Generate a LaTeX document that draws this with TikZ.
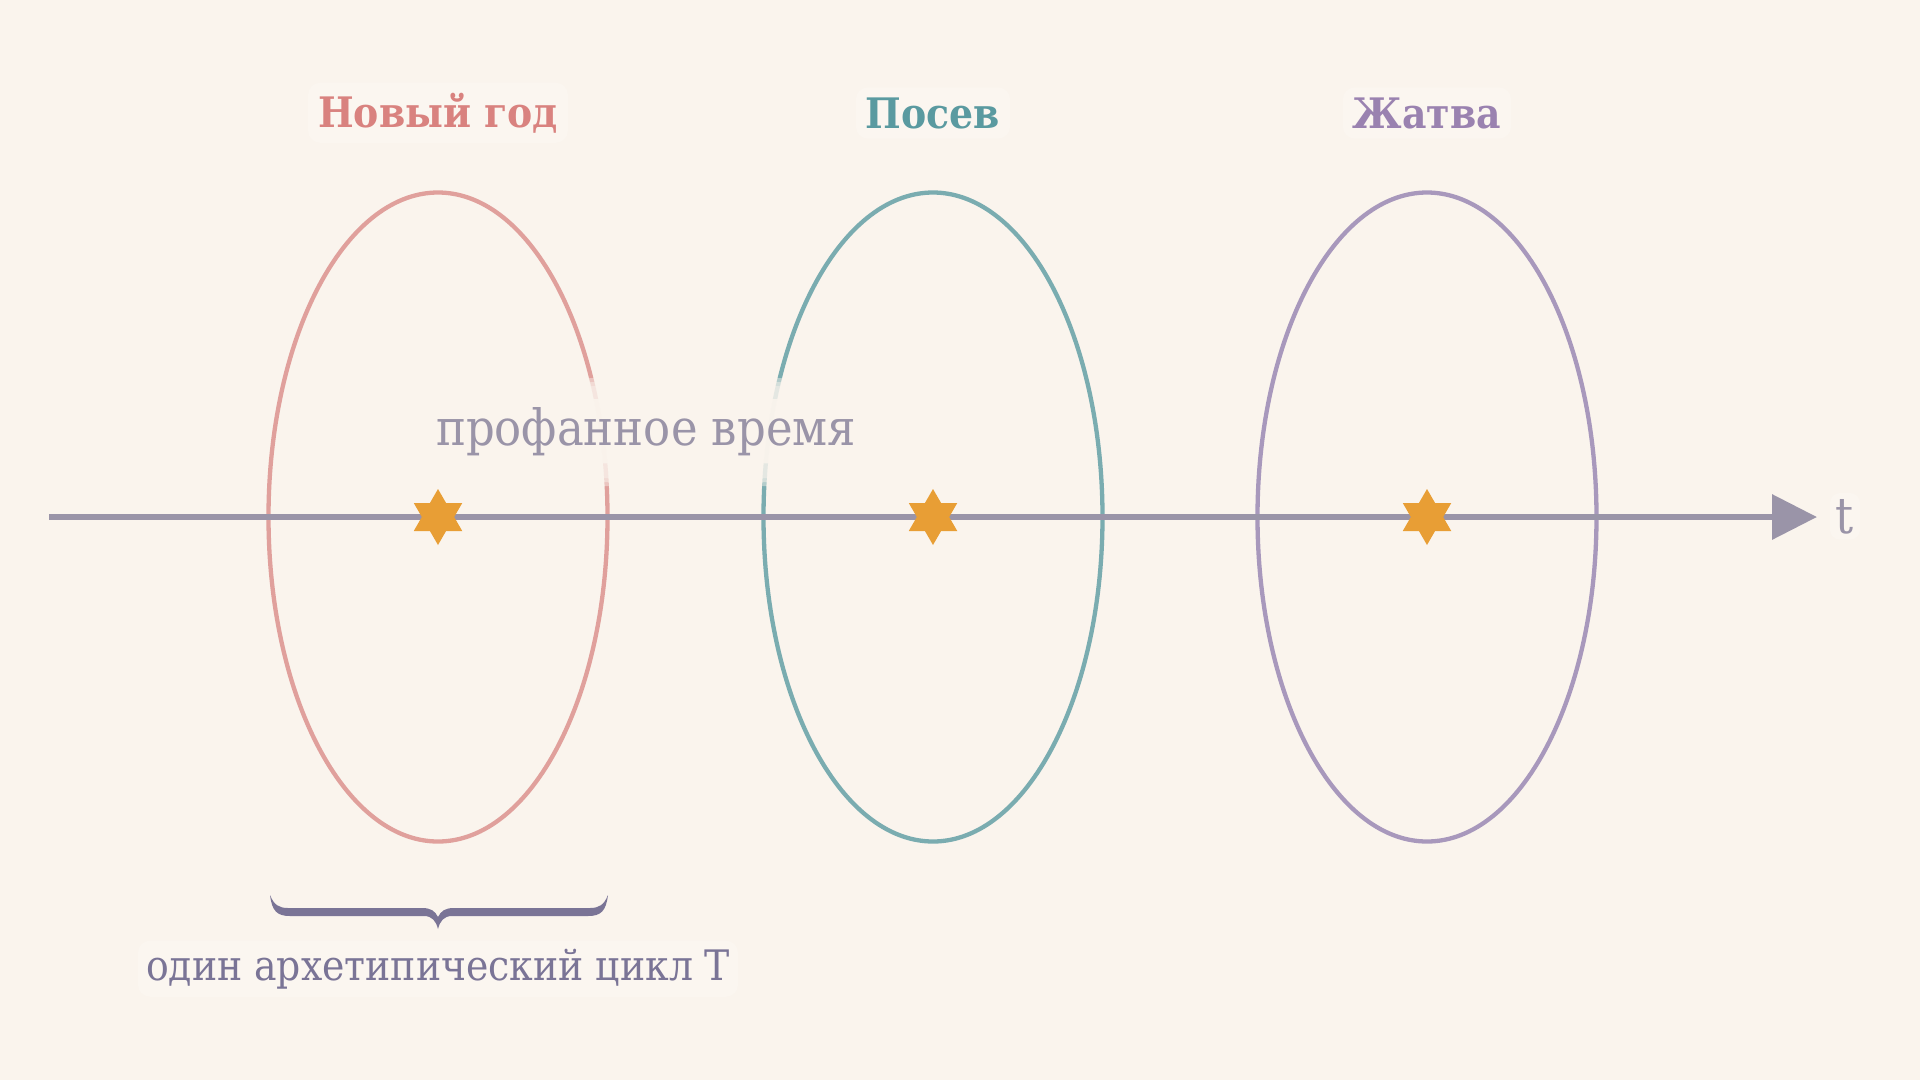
\documentclass[tikz,border=0pt]{standalone}
\usepackage{fontspec}
\setmainfont{DejaVu Serif Condensed}
\usetikzlibrary{shapes.geometric,arrows.meta}
\definecolor{bg}{HTML}{FAF4ED}
\definecolor{labelbg}{HTML}{FBF6F0}
\definecolor{axisgrey}{HTML}{9A94A8}
\definecolor{bracecol}{HTML}{7A7496}
\definecolor{starcol}{HTML}{E89E35}
\definecolor{pinkE}{HTML}{E0A09C}
\definecolor{pinkT}{HTML}{D9827F}
\definecolor{tealE}{HTML}{7AACB0}
\definecolor{tealT}{HTML}{5A9AA0}
\definecolor{purpE}{HTML}{A898BC}
\definecolor{purpT}{HTML}{9A82B0}
\begin{document}
\begin{tikzpicture}[x=1pt,y=-1pt,
  cycle/.style={ellipse,line width=4.3pt,inner sep=0pt,minimum width=339pt,minimum height=649pt},
  title/.style={font=\bfseries\fontsize{42}{50}\selectfont,anchor=base,fill=labelbg,rounded corners=12pt,inner sep=10pt},
  sacred/.style={star,star points=6,star point ratio=1.732,fill=starcol,inner sep=0pt,minimum size=56pt},
  axisline/.style={line width=6.5pt,draw=axisgrey,-{Triangle[length=45pt,width=44pt]}},
  lbl/.style={anchor=base,fill=labelbg,rounded corners=12pt,inner sep=8pt}]
\useasboundingbox (0,0) rectangle (1920,1080);
\fill[bg] (0,0) rectangle (1920,1080);
% cycles
\node[cycle,draw=pinkE] (e1) at (438,517) {};
\node[cycle,draw=tealE] (e2) at (933,517) {};
\node[cycle,draw=purpE] (e3) at (1427,517) {};
% titles
\node[title,text=pinkT] (t1) at (438,127) {Новый год};
\node[title,text=tealT] (t2) at (933,128) {Посев};
\node[title,text=purpT] (t3) at (1427,128) {Жатва};
% soft halo behind the profane-time label
\foreach \d in {14,10,6}
  \fill[bg,opacity=0.45,rounded corners=18pt] (430-\d,392-\d) rectangle (862+\d,472+\d);
\node[lbl,text=axisgrey,font=\fontsize{50}{58}\selectfont,fill=bg,fill opacity=0.9,text opacity=1] (p) at (646,445) {профанное время};
% time axis
\coordinate (a0) at (49,517);
\coordinate (a1) at (1817,517);
\draw[axisline] (a0) -- (a1);
\node[text=axisgrey,font=\fontsize{50}{56}\selectfont,anchor=base,fill=labelbg,rounded corners=10pt,inner sep=6pt] (t) at (1845,533) {t};
% sacred moments
\node[sacred] (s1) at (438,517) {};
\node[sacred] (s2) at (933,517) {};
\node[sacred] (s3) at (1427,517) {};
% brace (calligraphic, filled)
\fill[bracecol]
  (270,895) .. controls (272,911) and (277,916) .. (290,916)
  -- (424,916) .. controls (432,916) and (436,921) .. (438,929)
  .. controls (440,921) and (444,916) .. (452,916)
  -- (588,916) .. controls (601,916) and (606,911) .. (608,895)
  .. controls (604,905) and (599,908) .. (590,908)
  -- (454,908) .. controls (445,908) and (441,911) .. (438,917)
  .. controls (435,911) and (431,908) .. (422,908)
  -- (288,908) .. controls (279,908) and (274,905) .. (270,895) -- cycle;
\node[lbl,text=bracecol,font=\fontsize{42}{50}\selectfont] (c) at (438,980) {один архетипический цикл T};
\end{tikzpicture}
\end{document}
